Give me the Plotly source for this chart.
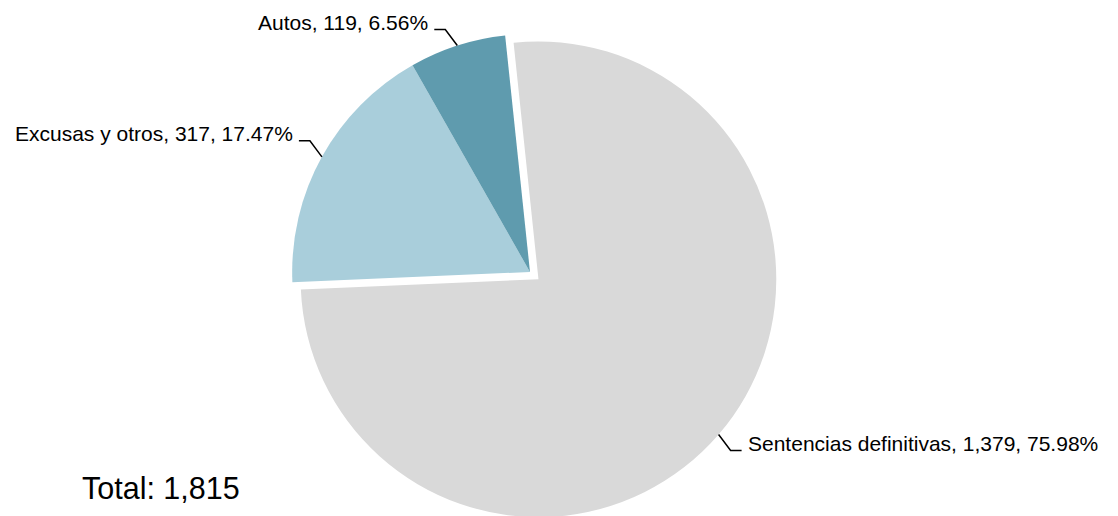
import math
import plotly.graph_objects as go

labels = ["Sentencias definitivas", "Excusas y otros", "Autos"]
values = [1379, 317, 119]
colors = ["#D9D9D9", "#A9CEDB", "#5F9BAE"]
pulls = [0.047, 0, 0]

W, H = 1118, 516
MT, MB, ML, MR = 15, 3, 0, 0
DOM_X = [0, 0.9338]
ROT = -6
FONT = "Liberation Sans, Arial, sans-serif"
LABEL_SIZE = 21
TOTAL_SIZE = 30.5

total = sum(values)

fig = go.Figure(go.Pie(
    labels=labels, values=values, sort=False, direction="clockwise",
    rotation=ROT, pull=pulls, marker=dict(colors=colors, line=dict(width=0)),
    textinfo="none", hoverinfo="label+value+percent", showlegend=False,
    domain=dict(x=DOM_X, y=[0, 1]),
))

# geometry (mirrors plotly's pie sizing) to place leader lines and labels
pw, ph = W - ML - MR, H - MT - MB
cx = ML + pw * (DOM_X[0] + DOM_X[1]) / 2
cy = MT + ph / 2
r = min(pw * (DOM_X[1] - DOM_X[0]) / 2, ph / 2) / (1 + max(pulls))

def px(x):
    return (x - ML) / pw

def py(y):
    return (H - MB - y) / ph

shapes, annots = [], []
start = ROT
for lab, v, p in zip(labels, values, pulls):
    span = 360 * v / total
    mid = math.radians(start + span / 2)
    start += span
    sx, sy = math.sin(mid), -math.cos(mid)
    ccx, ccy = cx + p * r * sx, cy + p * r * sy
    ex, ey = ccx + r * sx, ccy + r * sy
    side = 1 if sx > 0 else -1
    vside = 1 if sy > 0 else -1
    bx, by = ex + side * 12, ey + vside * 16
    hx = bx + side * 11
    shapes.append(dict(
        type="path", xref="paper", yref="paper",
        path=f"M {px(ex)},{py(ey)} L {px(bx)},{py(by)} L {px(hx)},{py(by)}",
        line=dict(color="black", width=1.5),
    ))
    pct = 100 * v / total
    annots.append(dict(
        x=px(hx + side * 4), y=py(by - 7.5), xref="paper", yref="paper",
        xanchor="left" if side > 0 else "right", yanchor="middle",
        text=f"{lab}, {v:,}, {pct:.2f}%", showarrow=False,
        font=dict(family=FONT, size=LABEL_SIZE, color="black"),
    ))

annots.append(dict(
    x=px(72), y=py(480), xref="paper", yref="paper",
    xanchor="left", yanchor="middle", text=f"Total: {total:,}",
    showarrow=False, font=dict(family=FONT, size=TOTAL_SIZE, color="black"),
))

fig.update_layout(
    width=W, height=H, margin=dict(l=ML, r=MR, t=MT, b=MB),
    paper_bgcolor="white", plot_bgcolor="white",
    shapes=shapes, annotations=annots,
    font=dict(family=FONT),
)

fig.write_html("out.html")
